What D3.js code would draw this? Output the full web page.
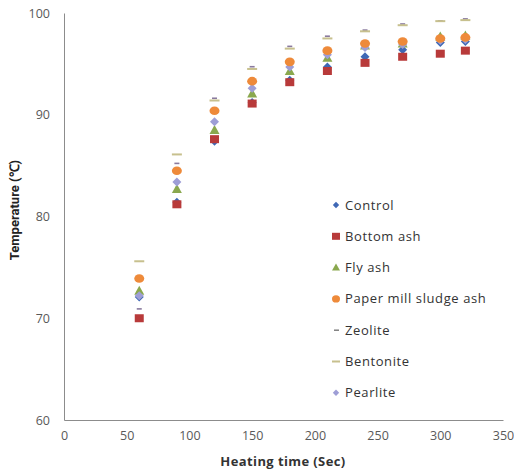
<!DOCTYPE html>
<html><head><meta charset="utf-8">
<script src="https://cdn.jsdelivr.net/npm/d3@7/dist/d3.min.js"></script>
<style>body{margin:0;background:#fff}svg{display:block}</style>
</head><body>
<svg id="c" width="514" height="471"></svg>
<script>
const times = [60, 90, 120, 150, 180, 210, 240, 270, 300, 320];
const control   = [72.1, 81.4, 87.4, 91.2, 93.4, 94.7, 95.7, 96.4, 97.1, 97.2];
const bottomAsh = [70.0, 81.2, 87.6, 91.1, 93.2, 94.3, 95.1, 95.7, 96.0, 96.3];
const flyAsh    = [72.7, 82.7, 88.5, 92.1, 94.3, 95.6, 96.8, 97.0, 97.7, 97.8];
const paperMill = [73.9, 84.5, 90.4, 93.3, 95.2, 96.3, 97.0, 97.2, 97.5, 97.6];
const zeolite   = [70.9, 85.2, 91.6, 94.7, 96.7, 97.7, 98.3, 98.9, 99.2, 99.4];
const bentonite = [75.6, 86.1, 91.4, 94.5, 96.5, 97.5, 98.2, 98.8, 99.2, 99.3];
const pearlite  = [72.2, 83.4, 89.3, 92.6, 94.7, 95.9, 96.6, 96.9, 97.3, 97.4];
const seriesNames = ["Control", "Bottom ash", "Fly ash", "Paper mill sludge ash", "Zeolite", "Bentonite", "Pearlite"];
const xTicks = [0, 50, 100, 150, 200, 250, 300, 350];
const yTicks = [60, 70, 80, 90, 100];

const series = [
  {name: seriesNames[0], values: control,   color: "#3F68B5", shape: "diamond"},
  {name: seriesNames[1], values: bottomAsh, color: "#B83A3A", shape: "square"},
  {name: seriesNames[2], values: flyAsh,    color: "#8AA84E", shape: "triangle"},
  {name: seriesNames[3], values: paperMill, color: "#EE8A3A", shape: "circle"},
  {name: seriesNames[4], values: zeolite,   color: "#8A7A9E", shape: "shortdash"},
  {name: seriesNames[5], values: bentonite, color: "#C7C08E", shape: "longdash"},
  {name: seriesNames[6], values: pearlite,  color: "#9E9ED6", shape: "diamond"}
];
const drawOrder = [4, 5, 0, 1, 2, 6, 3];

const svg = d3.select("#c");
const x = d3.scaleLinear().domain([0, 350]).range([64, 503]);
const y = d3.scaleLinear().domain([60, 100]).range([420, 13]);

const axisColor = "#8C8C8C";
const gx = svg.append("g").attr("transform", "translate(0,420)")
  .call(d3.axisBottom(x).tickValues(xTicks).tickSize(0).tickPadding(11));
gx.select(".domain").attr("stroke", axisColor);
gx.selectAll("text").attr("fill", "#595959").style("font-family", "Open Sans, sans-serif").style("font-size", "12.5px");
const gy = svg.append("g").attr("transform", "translate(64,0)")
  .call(d3.axisLeft(y).tickValues(yTicks).tickSize(0).tickPadding(14));
gy.select(".domain").attr("stroke", axisColor);
gy.selectAll("text").attr("fill", "#595959").style("font-family", "Open Sans, sans-serif").style("font-size", "12.5px");

svg.append("text").attr("x", 283).attr("y", 466).attr("text-anchor", "middle")
  .style("font-family", "Open Sans, sans-serif").style("font-weight", "bold").style("font-size", "13px")
  .style("letter-spacing", "0.4px")
  .attr("fill", "#333").text("Heating time (Sec)");
svg.append("text").attr("transform", "translate(19,210) rotate(-90)").attr("text-anchor", "middle")
  .style("font-family", "Liberation Sans Narrow, Roboto, sans-serif").style("font-weight", "bold").style("font-size", "13px")
  .attr("fill", "#222").text("Temperature (℃)");

function marker(g, shape, color, cx, cy) {
  if (shape === "diamond") {
    g.append("path").attr("d", `M${cx},${cy-4.5}L${cx+4.5},${cy}L${cx},${cy+4.5}L${cx-4.5},${cy}Z`).attr("fill", color);
  } else if (shape === "square") {
    g.append("rect").attr("x", cx-4.5).attr("y", cy-4).attr("width", 9).attr("height", 8).attr("fill", color);
  } else if (shape === "triangle") {
    g.append("path").attr("d", `M${cx},${cy-5}L${cx+5},${cy+4}L${cx-5},${cy+4}Z`).attr("fill", color);
  } else if (shape === "circle") {
    g.append("ellipse").attr("cx", cx).attr("cy", cy).attr("rx", 5).attr("ry", 4.3).attr("fill", color);
  } else if (shape === "shortdash") {
    g.append("rect").attr("x", cx-2.5).attr("y", cy-1).attr("width", 5).attr("height", 1.6).attr("fill", color);
  } else if (shape === "longdash") {
    g.append("rect").attr("x", cx-5).attr("y", cy-1).attr("width", 10).attr("height", 2).attr("fill", color);
  }
}

const plot = svg.append("g");
drawOrder.forEach(i => {
  const s = series[i];
  const g = plot.append("g");
  s.values.forEach((v, j) => marker(g, s.shape, s.color, x(times[j]), y(v)));
});

const lg = svg.append("g");
series.forEach((s, i) => {
  const ly = 205 + i * 31.3;
  const g = lg.append("g");
  if (s.shape === "diamond") {
    g.append("path").attr("d", `M336,${ly-3.2}L339.2,${ly}L336,${ly+3.2}L332.8,${ly}Z`).attr("fill", s.color);
  } else if (s.shape === "square") {
    g.append("rect").attr("x", 332).attr("y", ly-3.5).attr("width", 8).attr("height", 7).attr("fill", s.color);
  } else if (s.shape === "triangle") {
    g.append("path").attr("d", `M336,${ly-4}L340,${ly+3}L332,${ly+3}Z`).attr("fill", s.color);
  } else if (s.shape === "circle") {
    g.append("ellipse").attr("cx", 336).attr("cy", ly).attr("rx", 4).attr("ry", 3.6).attr("fill", s.color);
  } else if (s.shape === "shortdash") {
    g.append("rect").attr("x", 334).attr("y", ly-0.7).attr("width", 5).attr("height", 1.4).attr("fill", "#777");
  } else {
    g.append("rect").attr("x", 332).attr("y", ly-1).attr("width", 8).attr("height", 2).attr("fill", s.color);
  }
  g.append("text").attr("x", 345).attr("y", ly + 4.5)
    .style("font-family", "Open Sans, sans-serif").style("font-size", "13px").style("letter-spacing", "0.6px")
    .attr("fill", "#333").text(s.name);
});
</script>
</body></html>
